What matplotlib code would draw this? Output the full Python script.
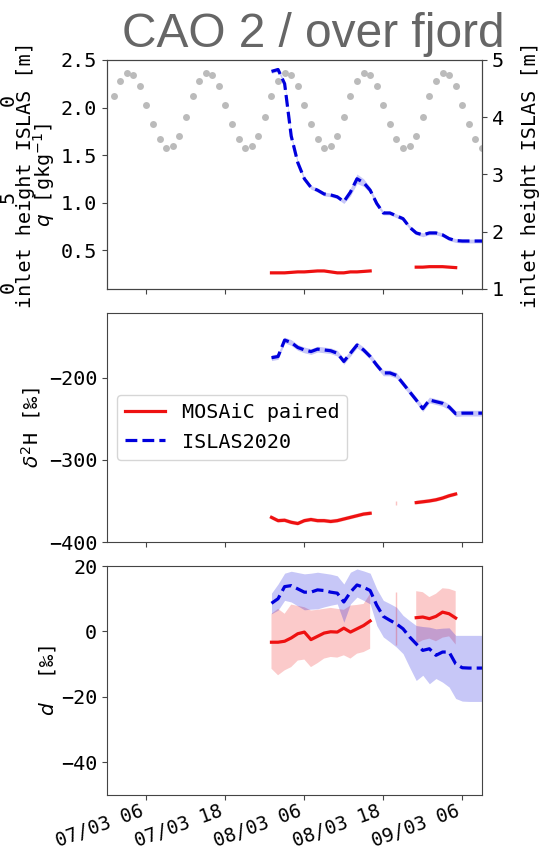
import matplotlib
matplotlib.use("Agg")
import matplotlib.pyplot as plt
import matplotlib.dates as mdates
import numpy as np
import pandas as pd

nan = np.nan

# ---- data ----
X_START = "2020-03-07 00:00"
X_END = "2020-03-09 09:00"

# inlet height ISLAS [m], hourly 07/03 01:00 .. 09/03 09:00
inlet_times = pd.date_range("2020-03-07 01:00", "2020-03-09 09:00", freq="h")
inlet_height = [
    4.37, 4.64, 4.78, 4.73, 4.54, 4.22, 3.89, 3.62, 3.47, 3.50, 3.68, 4.01,
    4.37, 4.64, 4.78, 4.73, 4.54, 4.22, 3.89, 3.62, 3.47, 3.50, 3.68, 4.01,
    4.37, 4.64, 4.78, 4.73, 4.54, 4.22, 3.89, 3.62, 3.47, 3.50, 3.68, 4.01,
    4.37, 4.64, 4.78, 4.73, 4.54, 4.22, 3.89, 3.62, 3.47, 3.50, 3.68, 4.01,
    4.37, 4.64, 4.78, 4.73, 4.54, 4.22, 3.89, 3.62, 3.47,
]

# hourly 08/03 01:00 .. 09/03 09:00
obs_times = pd.date_range("2020-03-08 01:00", "2020-03-09 09:00", freq="h")

# ISLAS2020
isl_q = [2.38, 2.40, 2.25, 1.70, 1.42, 1.25, 1.16, 1.13, 1.09, 1.08, 1.06,
         1.01, 1.11, 1.25, 1.21, 1.13, 0.99, 0.89, 0.89, 0.86, 0.83, 0.74,
         0.68, 0.66, 0.68, 0.68, 0.66, 0.62, 0.60, 0.595, 0.595, 0.595, 0.595]
isl_q_sd = [0.02, 0.02, 0.02, 0.02, 0.02, 0.02, 0.02, 0.02, 0.02, 0.02, 0.02,
            0.02, 0.04, 0.05, 0.04, 0.03, 0.02, 0.02, 0.02, 0.02, 0.02, 0.02,
            0.02, 0.02, 0.02, 0.02, 0.02, 0.02, 0.02, 0.02, 0.02, 0.02, 0.02]
isl_d2h = [-175.5, -174, -154, -157, -163, -166, -168, -165, -166, -167, -170,
           -180, -170, -160, -166, -174, -184.5, -194, -194, -197, -207, -217,
           -227, -237.5, -227, -229, -231, -235.5, -243.7, -243, -243, -243, -243]
isl_d2h_sd = 3.5
isl_dxs = [8.6, 10, 13.7, 14, 13, 12, 12, 12.7, 12.5, 12, 11.7,
           9, 12, 14.2, 13.5, 12.5, 8, 4.6, 3.4, 2.3, 0.8, -1.7,
           -3.8, -5.8, -5.3, -7.3, -6.3, -6.3, -9.9, -11.1, -11.2, -11.2, -11.2]
isl_dxs_hi = [11.7, 14.5, 17.8, 18.4, 18, 17.6, 17.8, 18.1, 17.8, 17.5, 17,
              14.5, 18.1, 19.1, 18.5, 17.8, 13, 9.5, 8.5, 7.4, 4.9, 3.3,
              1.8, 1.5, 1.3, 0.8, 1.0, 1.1, -1.2, -1.2, -1.2, -1.2, -1.2]
isl_dxs_lo = [5.4, 6.5, 9.5, 9, 7.8, 6.6, 6.8, 6.9, 7.5, 8, 8.4,
              2.8, 8.4, 10.5, 9.5, 8.4, 1.8, -1.7, -3.2, -4.8, -6.8, -11,
              -15, -13.4, -16, -14.4, -15.5, -17, -20.5, -21.3, -21.4, -21.4, -21.4]

# MOSAiC paired
mos_q = [0.26, 0.26, 0.26, 0.265, 0.27, 0.27, 0.275, 0.28, 0.28, 0.27, 0.26,
         0.26, 0.27, 0.27, 0.275, 0.28, nan, nan, nan, nan, nan, nan,
         0.32, 0.32, 0.325, 0.325, 0.325, 0.32, 0.315, nan, nan, nan, nan]
mos_q_sd = 0.008
mos_d2h = [-370, -374, -373.5, -376, -377.5, -374, -372.6, -374, -374, -375, -374,
           -372, -370, -368, -366, -365, nan, nan, nan, -352, nan, nan,
           -352, -351, -350, -348.6, -346.5, -343.7, -341.6, nan, nan, nan, nan]
mos_d2h_sd = 2.5
mos_dxs = [-3.3, -3.3, -3, -2, -0.7, -0.2, -2.5, -1.5, -0.5, -0.1, -0.2,
           1, -0.2, 0.8, 1.8, 3.2, nan, nan, nan, 4, nan, nan,
           4.2, 4.4, 3.9, 4.6, 5.9, 5.4, 4.1, nan, nan, nan, nan]
mos_dxs_hi = [5.4, 6.9, 5.4, 8.2, 7.8, 7.4, 6.4, 6.6, 6.9, 7.2, 6.9,
              6.6, 7.9, 8.1, 8.4, 11.5, nan, nan, nan, 12, nan, nan,
              12.3, 12, 10.5, 11.5, 13.2, 13, 12.3, nan, nan, nan, nan]
mos_dxs_lo = [-11.4, -13.4, -11.9, -10.9, -8.9, -8.6, -10.9, -9.7, -8.3, -7.8, -8,
              -7.3, -8.3, -6.8, -6.3, -5.3, nan, nan, nan, -4.3, nan, nan,
              -3.8, -2.7, -2.2, -3, -1.9, -1.5, -4, nan, nan, nan, nan]

# ---- style ----
RED = "#ee1111"
BLUE = "#0000dd"
GRAY_DOT = "#bbbbbb"
SPINE = "#444444"
FS = 14.5

plt.rcParams["font.family"] = ["DejaVu Sans Mono", "DejaVu Sans"]
plt.rcParams["font.size"] = FS
plt.rcParams["mathtext.fontset"] = "dejavusans"

t_in = mdates.date2num(inlet_times.to_pydatetime())
t_obs = mdates.date2num(obs_times.to_pydatetime())
xlim = mdates.date2num([pd.Timestamp(X_START).to_pydatetime(), pd.Timestamp(X_END).to_pydatetime()])


def draw_series(ax, mean, lo, hi, color, ls, label):
    mean = np.asarray(mean, float)
    lo = np.asarray(lo, float)
    hi = np.asarray(hi, float)
    ax.fill_between(t_obs, lo, hi, color=color, alpha=0.22, linewidth=0)
    # isolated samples only show up as a thin band
    fin = np.isfinite(mean)
    prev = np.r_[False, fin[:-1]]
    nxt = np.r_[fin[1:], False]
    iso = fin & ~prev & ~nxt
    if iso.any():
        ax.vlines(t_obs[iso], lo[iso], hi[iso], color=color, alpha=0.25, lw=1)
    ax.plot(t_obs, mean, color=color, ls=ls, lw=2.3, label=label)


def style_axis(ax):
    for s in ax.spines.values():
        s.set_color(SPINE)
    ax.tick_params(colors="black", labelsize=FS)
    ax.tick_params(axis="both", color=SPINE)


fig = plt.figure(figsize=(5.43, 8.52), dpi=100)
L, W = 107 / 543, 375 / 543
ax1 = fig.add_axes([L, 1 - 289 / 852, W, 229 / 852])
ax2 = fig.add_axes([L, 1 - 542 / 852, W, 229 / 852], sharex=ax1)
ax3 = fig.add_axes([L, 1 - 795 / 852, W, 229 / 852], sharex=ax1)

# ---- top: humidity + inlet height ----
ax1r = ax1.twinx()
ax1r.plot(t_in, inlet_height, "o", color=GRAY_DOT, ms=5, mec="none")
ax1r.set_ylim(1, 5)
ax1r.set_yticks([1, 2, 3, 4, 5])
ax1r.set_ylabel("inlet height ISLAS [m]", labelpad=12)
ax1.set_zorder(ax1r.get_zorder() + 1)
ax1.patch.set_visible(False)

q_isl = np.asarray(isl_q)
sd_isl = np.asarray(isl_q_sd)
q_mos = np.asarray(mos_q, float)
draw_series(ax1, mos_q, q_mos - mos_q_sd, q_mos + mos_q_sd, RED, "-", "MOSAiC paired")
draw_series(ax1, isl_q, q_isl - sd_isl, q_isl + sd_isl, BLUE, "--", "ISLAS2020")
ax1.set_ylim(0.09, 2.5)
ax1.set_yticks([0.5, 1.0, 1.5, 2.0, 2.5])
ax1.set_ylabel("$q$ [gkg$^{-1}$]")
ax1.yaxis.set_label_coords(-0.133, 0.5)

# ---- middle: d2H ----
d_mos = np.asarray(mos_d2h, float)
d_isl = np.asarray(isl_d2h, float)
draw_series(ax2, mos_d2h, d_mos - mos_d2h_sd, d_mos + mos_d2h_sd, RED, "-", "MOSAiC paired")
draw_series(ax2, isl_d2h, d_isl - isl_d2h_sd, d_isl + isl_d2h_sd, BLUE, "--", "ISLAS2020")
ax2.set_ylim(-400, -121)
ax2.set_yticks([-400, -300, -200])
ax2.set_ylabel("$\\delta^2$H [‰]")
ax2.legend(loc="center left", bbox_to_anchor=(0.0, 0.5), fontsize=FS,
           handlelength=2.0, borderpad=0.4)

# ---- bottom: d-excess ----
draw_series(ax3, mos_dxs, mos_dxs_lo, mos_dxs_hi, RED, "-", "MOSAiC paired")
draw_series(ax3, isl_dxs, isl_dxs_lo, isl_dxs_hi, BLUE, "--", "ISLAS2020")
ax3.set_ylim(-50, 20)
ax3.set_yticks([-40, -20, 0, 20])
ax3.set_ylabel("$d$  [‰]")
ax3.yaxis.set_label_coords(-0.13, 0.5)

ax1.set_xlim(xlim)
ax3.xaxis.set_major_locator(mdates.HourLocator(byhour=[6, 18]))
ax3.xaxis.set_major_formatter(mdates.DateFormatter("%d/%m %H"))
for ax in (ax1, ax2):
    ax.tick_params(labelbottom=False)

for ax in (ax1, ax1r, ax2, ax3):
    style_axis(ax)
ax3.tick_params(axis="x", pad=1.5)
for lab in ax3.get_xticklabels():
    lab.set_rotation(20)
    lab.set_ha("right")
    lab.set_fontsize(13.8)

# title
fig.text(313 / 543, 1 - 47 / 852, "CAO 2 / over fjord", ha="center", va="baseline",
         fontsize=34.5, color="#666666", family=["Liberation Sans", "DejaVu Sans"])

# leftover labels of the neighbouring panel
fig.text(26 / 543, 1 - 175 / 852, "inlet height ISLAS [m]", rotation=90,
         ha="center", va="center", fontsize=FS)
for yy, s in ((100, "0"), (197, "5"), (287, "0")):
    fig.text(8 / 543, 1 - yy / 852, s, rotation=90, ha="center", va="center", fontsize=FS)

fig.savefig("out.png", dpi=100)
